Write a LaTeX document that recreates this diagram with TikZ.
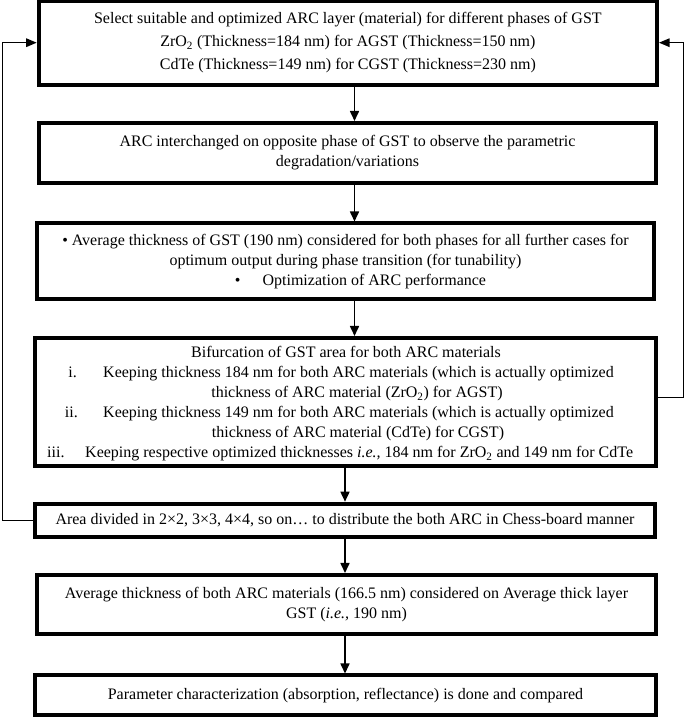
\documentclass[tikz,border=0pt]{standalone}
\usepackage{fontspec}
\setmainfont{Liberation Serif}
\usetikzlibrary{arrows.meta}
\begin{document}
\begin{tikzpicture}[x=1pt,y=1pt,
  box/.style={draw, line width=4pt, inner sep=0pt, align=center, font=\fontsize{16}{20}\selectfont},
  txt/.style={inner sep=0pt, font=\fontsize{16}{20}\selectfont, text height=11pt, text depth=4pt},
  arr/.style={line width=1.6pt, -{Triangle[length=10pt,width=9pt]}},
  fb/.style={line width=1.3pt, -{Triangle[length=10.5pt,width=8.5pt]}}]
\useasboundingbox (0,0) rectangle (685,717);
% boxes
\node[box, font=\fontsize{16}{23}\selectfont, minimum width=618.3pt, minimum height=84pt] (b1) at (347.85, 717-42.7)
  {Select suitable and optimized ARC layer (material) for different phases of GST\\
   ZrO\textsubscript{2} (Thickness=184 nm) for AGST (Thickness=150 nm)\\
   CdTe (Thickness=149 nm) for CGST (Thickness=230 nm)};
\node[box, minimum width=617pt, minimum height=60pt] (b2) at (347.5, 717-153)
  {ARC interchanged on opposite phase of GST to observe the parametric\\
   degradation/variations};
\node[box, minimum width=617.9pt, minimum height=75.5pt] (b3) at (345.5, 717-261.25)
  {\textbullet{} Average thickness of GST (190 nm) considered for both phases for all further cases for\\
   optimum output during phase transition (for tunability)\\
   \hspace*{30pt}\textbullet\hspace{22pt}Optimization of ARC performance};
\node[box, minimum width=621pt, minimum height=128.3pt] (b4) at (345.8, 717-402.15) {};
\node[box, minimum width=620.7pt, minimum height=33.6pt] (b6) at (345, 717-520.5)
  {Area divided in 2×2, 3×3, 4×4, so on… to distribute the both ARC in Chess-board manner};
\node[box, minimum width=619pt, minimum height=59pt] (b7) at (346.5, 717-604.5)
  {Average thickness of both ARC materials (166.5 nm) considered on Average thick layer\\
   GST (\textit{i.e.,} 190 nm)};
\node[box, minimum width=621pt, minimum height=39.5pt] (b8) at (345.5, 717-695.25)
  {Parameter characterization (absorption, reflectance) is done and compared};
% text of box 4
\node[txt] (t1) at (346, 717-354) {Bifurcation of GST area for both ARC materials};
\node[txt, anchor=east] (n1) at (77, 717-374) {i.};
\node[txt, anchor=west] (t2) at (103, 717-374) {Keeping thickness 184 nm for both ARC materials (which is actually optimized};
\node[txt] (t3) at (357, 717-394) {thickness of ARC material (ZrO\textsubscript{2}) for AGST)};
\node[txt, anchor=east] (n2) at (78, 717-414) {ii.};
\node[txt, anchor=west] (t4) at (103, 717-414) {Keeping thickness 149 nm for both ARC materials (which is actually optimized};
\node[txt] (t5) at (358, 717-434) {thickness of ARC material (CdTe) for CGST)};
\node[txt, anchor=west] (n3) at (47, 717-454) {iii.};
\node[txt, anchor=west] (t6) at (85, 717-454) {Keeping respective optimized thicknesses \textit{i.e.,} 184 nm for ZrO\textsubscript{2} and 149 nm for CdTe};
% arrow columns
\coordinate (ca) at (354.5, 0);
\coordinate (cb) at (345, 0);
\coordinate (lx) at (2.7, 0);
\coordinate (rx) at (683.7, 0);
\draw[arr] (b1.south -| ca) -- (b2.north -| ca);
\draw[arr] (b2.south -| ca) -- (b3.north -| ca);
\draw[arr] (b3.south -| ca) -- (b4.north -| ca);
\draw[arr] (b4.south -| cb) -- (b6.north -| cb);
\draw[arr] (b6.south -| cb) -- (b7.north -| cb);
\draw[arr] (b7.south -| cb) -- (b8.north -| cb);
% feedback loops
\draw[fb] (b6.west) -- (b6.west -| lx) |- (b1.west);
\draw[fb] ([yshift=4.4pt]b4.east) -- ([yshift=4.4pt]b4.east -| rx) |- (b1.east);
\end{tikzpicture}
\end{document}
